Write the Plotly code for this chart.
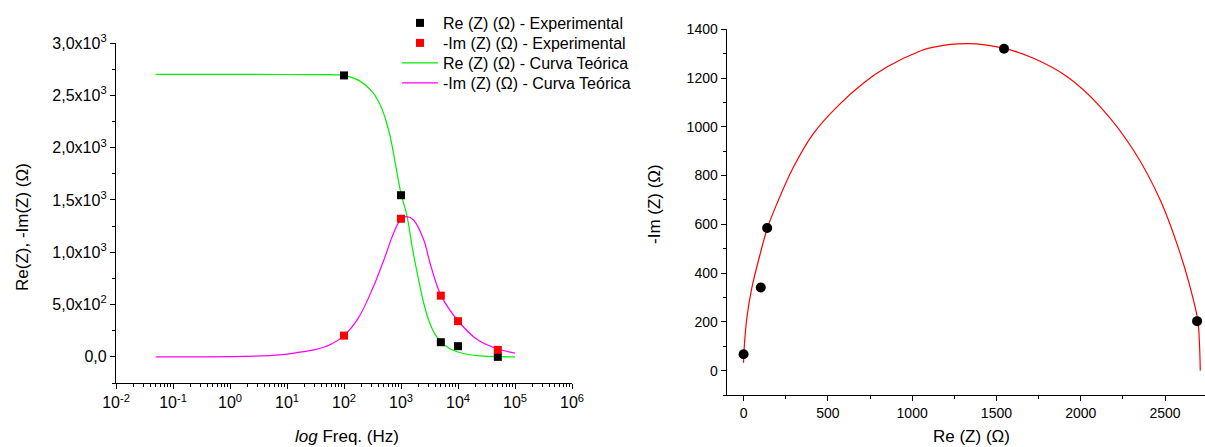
import plotly.graph_objects as go

# Measured impedance at each test frequency
freq_hz = [100, 1000, 5000, 10000, 50000]
re_exp = [2690, 1545, 140, 102, 0]
im_exp = [203, 1320, 585, 341, 67]

# Theoretical Re(Z) curve vs frequency
re_curve_hz = [0.05, 1, 10, 32, 100, 178, 316, 447, 631, 794, 1000, 1259, 1585,
               1995, 2512, 3162, 3981, 5012, 7079, 10000, 15849, 25119, 50119, 100000]
re_curve = [2700, 2700, 2699, 2697, 2690, 2645, 2530, 2390, 2130, 1850, 1560, 1360, 1040,
            760, 510, 330, 212, 145, 80, 46, 20, 9, 2, 0]

# Theoretical -Im(Z) curve vs frequency
im_curve_hz = [0.05, 1, 7.6, 17, 30, 58, 100, 178, 316, 500, 741, 1000, 1259, 1660,
               2512, 3236, 5012, 10000, 22387, 50119, 100000]
im_curve = [0, 2, 19, 45, 67, 118, 203, 370, 650, 926, 1181, 1318, 1340, 1308,
            1117, 895, 590, 345, 160, 75, 35]

# Theoretical Nyquist arc
nyq_re = [0, 4, 20, 50, 99, 142, 198, 297, 415, 554, 712, 850, 1048, 1127, 1325,
          1546, 1720, 1918, 2116, 2313, 2472, 2590, 2669, 2695, 2705, 2709]
nyq_im = [32, 96, 219, 342, 480, 586, 685, 836, 973, 1082, 1180, 1245, 1311, 1327, 1341,
          1322, 1281, 1206, 1082, 904, 699, 480, 288, 203, 96, 0]

# Tick labels
y1_tickvals = [0, 500, 1000, 1500, 2000, 2500, 3000]
y1_ticktext = ["0,0", "5,0x10<sup>2</sup>", "1,0x10<sup>3</sup>", "1,5x10<sup>3</sup>",
               "2,0x10<sup>3</sup>", "2,5x10<sup>3</sup>", "3,0x10<sup>3</sup>"]
x1_tickvals = [1e-2, 1e-1, 1e0, 1e1, 1e2, 1e3, 1e4, 1e5, 1e6]
x1_ticktext = ["10<sup>-2</sup>", "10<sup>-1</sup>", "10<sup>0</sup>", "10<sup>1</sup>",
               "10<sup>2</sup>", "10<sup>3</sup>", "10<sup>4</sup>", "10<sup>5</sup>",
               "10<sup>6</sup>"]

FONT = "Liberation Sans, Arial, Helvetica, sans-serif"
W, H = 1205, 447


def px_x(p):
    return p / W


def px_y(p):
    return 1 - p / H


fig = go.Figure()

# Frequency-domain panel (each legend entry gets its own legend box so rows sit tightly)
fig.add_trace(go.Scatter(x=re_curve_hz, y=re_curve, mode="lines",
                         line=dict(color="#00ee00", width=1.2, shape="spline"),
                         name="Re (Z) (Ω) - Curva Teórica", legend="legend3", xaxis="x", yaxis="y"))
fig.add_trace(go.Scatter(x=im_curve_hz, y=im_curve, mode="lines",
                         line=dict(color="#ff00ff", width=1.2, shape="spline"),
                         name="-Im (Z) (Ω) - Curva Teórica", legend="legend4", xaxis="x", yaxis="y"))
fig.add_trace(go.Scatter(x=freq_hz, y=re_exp, mode="markers",
                         marker=dict(symbol="square", size=8, color="black"),
                         name="Re (Z) (Ω) - Experimental", legend="legend", xaxis="x", yaxis="y"))
fig.add_trace(go.Scatter(x=freq_hz, y=im_exp, mode="markers",
                         marker=dict(symbol="square", size=8, color="red"),
                         name="-Im (Z) (Ω) - Experimental", legend="legend2", xaxis="x", yaxis="y"))

# Nyquist panel
fig.add_trace(go.Scatter(x=nyq_re, y=nyq_im, mode="lines", line=dict(color="red", width=1.2, shape="spline"),
                         showlegend=False, xaxis="x2", yaxis="y2"))
fig.add_trace(go.Scatter(x=re_exp, y=im_exp, mode="markers", marker=dict(symbol="circle", size=10, color="black"),
                         showlegend=False, xaxis="x2", yaxis="y2"))

axis_common = dict(showgrid=False, zeroline=False, showline=True, linecolor="black", linewidth=1.3,
                   ticks="outside", ticklen=5, tickwidth=1.2, tickcolor="black", automargin=False,
                   tickfont=dict(family=FONT, size=16, color="black"))
minor_common = dict(ticks="outside", ticklen=3, tickcolor="black", tickwidth=1)


def legend_row(y_center):
    return dict(x=px_x(397), y=px_y(y_center), xanchor="left", yanchor="middle",
                bgcolor="rgba(0,0,0,0)", font=dict(family=FONT, size=16, color="black"),
                itemwidth=36)


title_font = dict(family=FONT, size=17, color="black")

fig.update_layout(
    width=W, height=H,
    margin=dict(l=0, r=0, t=0, b=0),
    paper_bgcolor="white", plot_bgcolor="white",
    font=dict(family=FONT, color="black"),
    xaxis=dict(axis_common, type="log", range=[-2, 6], domain=[px_x(116), px_x(572)],
               tickvals=x1_tickvals, ticktext=x1_ticktext,
               minor=dict(minor_common, dtick="D1"), anchor="y"),
    yaxis=dict(axis_common, range=[-250, 3000], domain=[px_y(383), px_y(43)],
               tickvals=y1_tickvals, ticktext=y1_ticktext,
               minor=dict(minor_common, dtick=250, tick0=0), anchor="x"),
    xaxis2=dict(axis_common, range=[-100, 2737], domain=[px_x(726.7), 1.0],
                dtick=500, tick0=0, tickfont=dict(family=FONT, size=14, color="black"),
                minor=dict(minor_common, dtick=250, tick0=0), anchor="y2"),
    yaxis2=dict(axis_common, range=[-100, 1400], domain=[px_y(395), px_y(29.3)],
                dtick=200, tick0=0, tickfont=dict(family=FONT, size=14, color="black"),
                minor=dict(minor_common, dtick=100, tick0=0), anchor="x2"),
    legend=legend_row(23),
    legend2=legend_row(43),
    legend3=legend_row(63),
    legend4=legend_row(83),
    showlegend=True,
    annotations=[
        dict(text="<i>log</i> Freq. (Hz)", x=px_x(347), y=px_y(436), xref="paper", yref="paper",
             xanchor="center", yanchor="middle", showarrow=False, font=title_font),
        dict(text="Re(Z), -Im(Z) (Ω)", x=px_x(22), y=px_y(227), xref="paper", yref="paper",
             xanchor="center", yanchor="middle", textangle=-90, showarrow=False, font=title_font),
        dict(text="Re (Z) (Ω)", x=px_x(971), y=px_y(436), xref="paper", yref="paper",
             xanchor="center", yanchor="middle", showarrow=False, font=title_font),
        dict(text="-Im (Z) (Ω)", x=px_x(654), y=px_y(204), xref="paper", yref="paper",
             xanchor="center", yanchor="middle", textangle=-90, showarrow=False, font=title_font),
    ],
)

fig.write_html("out.html")
